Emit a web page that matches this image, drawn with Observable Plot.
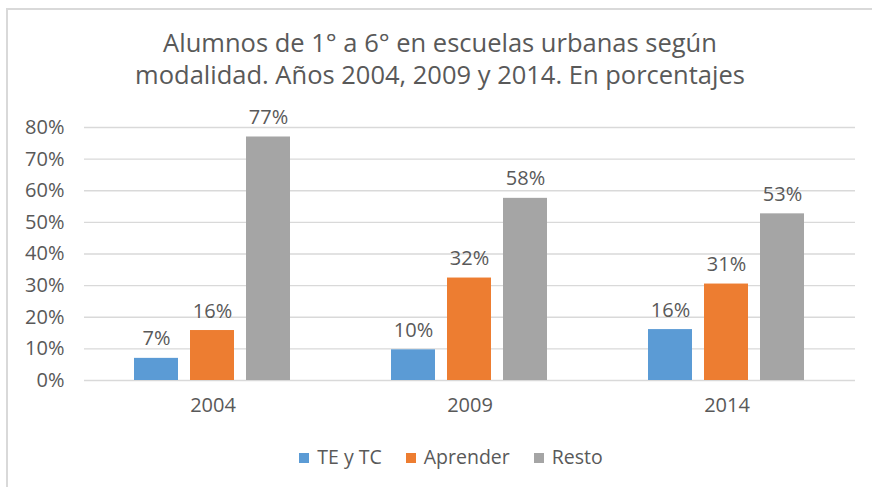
<!DOCTYPE html>
<html>
<head>
<meta charset="utf-8">
<script src="https://cdn.jsdelivr.net/npm/d3@7"></script>
<script src="https://cdn.jsdelivr.net/npm/@observablehq/plot@0.6"></script>
<style>
  html, body { margin: 0; padding: 0; background: #fff; }
  #chart { position: relative; width: 872px; height: 487px; overflow: hidden; font-family: "Open Sans", sans-serif; }
  #frame { position: absolute; left: 6px; top: 8px; width: 880px; height: 500px; border-left: 2px solid #d9d9d9; border-top: 2px solid #d9d9d9; box-sizing: border-box; }
  #title { position: absolute; left: 0; width: 880px; top: 26px; text-align: center; font-size: 25.5px; line-height: 32px; color: #595959; }
  #plot { position: absolute; left: 0; top: 0; }
  #legend { position: absolute; top: 443px; left: 0; width: 902px; text-align: center; font-size: 19.5px; color: #595959; }
  #legend span.item { display: inline-block; margin: 0 12px; }
  #legend span.sw { display: inline-block; width: 10px; height: 10px; margin-right: 8px; vertical-align: 1px; }
</style>
</head>
<body>
<div id="chart">
  <div id="frame"></div>
  <div id="title">Alumnos de 1° a 6° en escuelas urbanas según<br>modalidad. Años 2004, 2009 y 2014. En porcentajes</div>
  <div id="plot"></div>
  <div id="legend"></div>
</div>
<script>
const years = ["2004", "2009", "2014"];
const series = ["TE y TC", "Aprender", "Resto"];
const teytc = [0.07, 0.097, 0.161];
const aprender = [0.158, 0.324, 0.305];
const resto = [0.77, 0.576, 0.527];
const colors = ["#5B9BD5", "#ED7D31", "#A5A5A5"];
const yTicks = [0, 0.1, 0.2, 0.3, 0.4, 0.5, 0.6, 0.7, 0.8];

const valuesBySeries = [teytc, aprender, resto];
const data = [];
years.forEach((yr, i) => {
  series.forEach((s, j) => {
    data.push({year: yr, series: s, value: valuesBySeries[j][i]});
  });
});

const plot = Plot.plot({
  width: 872,
  height: 430,
  marginLeft: 83,
  marginRight: 17,
  marginTop: 127,
  marginBottom: 50,
  style: {fontFamily: "'Open Sans', sans-serif", fontSize: "20px", color: "#595959", background: "transparent"},
  fx: {domain: years, padding: 0, axis: "bottom", tickSize: 0, tickPadding: 17, label: null},
  x: {domain: series, paddingInner: 0.21, paddingOuter: 0.862, axis: null},
  y: {domain: [0, 0.8], ticks: yTicks, tickFormat: d3.format(".0%"), tickSize: 0, tickPadding: 20, label: null},
  color: {domain: series, range: colors},
  marks: [
    Plot.gridY(yTicks, {stroke: "#d9d9d9", strokeOpacity: 1, strokeWidth: 1.3}),
    Plot.barY(data, {fx: "year", x: "series", y: "value", fill: "series"}),
    Plot.text(data, {fx: "year", x: "series", y: "value", text: d => d3.format(".0%")(d.value), lineAnchor: "bottom", dy: -13, fill: "#595959", fontSize: 20})
  ]
});
document.getElementById("plot").appendChild(plot);

const legend = document.getElementById("legend");
series.forEach((s, i) => {
  const item = document.createElement("span");
  item.className = "item";
  const sw = document.createElement("span");
  sw.className = "sw";
  sw.style.background = colors[i];
  item.appendChild(sw);
  item.appendChild(document.createTextNode(s));
  legend.appendChild(item);
});
</script>
</body>
</html>
